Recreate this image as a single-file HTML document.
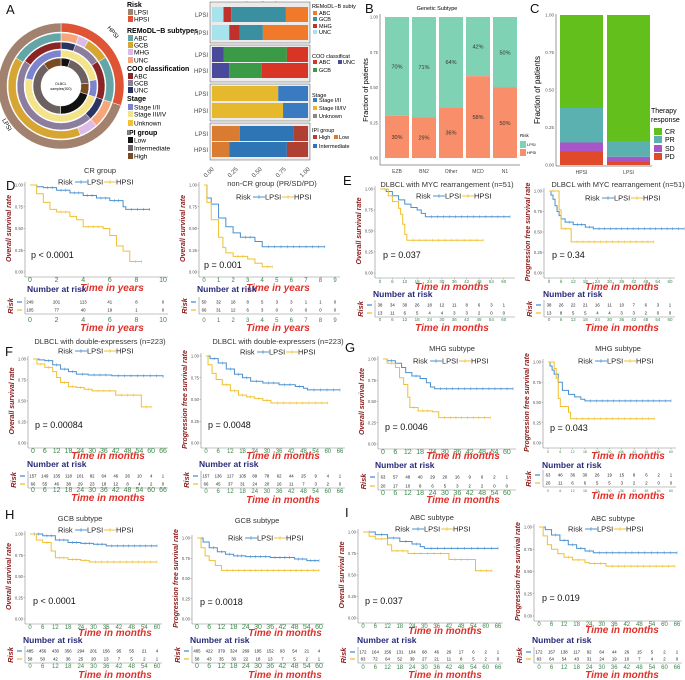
<!DOCTYPE html>
<html><head><meta charset="utf-8"><style>
html,body{margin:0;padding:0;background:#fff}
svg{display:block;font-family:"Liberation Sans",sans-serif}
</style></head><body>
<svg id="fig" width="685" height="680" viewBox="0 0 685 680" xmlns="http://www.w3.org/2000/svg">
<g font-size="13" fill="#111">
<text x="6" y="14">A</text><text x="365" y="13">B</text><text x="530" y="13">C</text>
<text x="6" y="190">D</text><text x="343" y="185">E</text><text x="5" y="356">F</text>
<text x="345" y="352">G</text><text x="5" y="519">H</text><text x="345" y="517">I</text>
</g>
<g id="pA"></g>
<g id="pB"></g>
<g id="pC"></g>
<g id="km"></g>
</svg>
<script>
const NS="http://www.w3.org/2000/svg";
function el(p,tag,at,txt){const e=document.createElementNS(NS,tag);for(const k in at)e.setAttribute(k,at[k]);if(txt!==undefined)e.textContent=txt;p.appendChild(e);return e;}

/* ---------- Panel A data ---------- */
const riskFrac=[0.70,0.30]; // LPSI, HPSI
const remodlCats=["UNC","MHG","GCB","ABC"];
const remodlL=[0.12,0.08,0.57,0.23];
const remodlH=[0.18,0.11,0.24,0.47];
const cooCats=["UNC","GCB","ABC"];
const cooL=[0.12,0.66,0.22];
const cooH=[0.18,0.34,0.48];
const stageCats=["III/IV","I/II"];
const stageL=[0.69,0.31];
const stageH=[0.74,0.26];
const ipiCats=["Low","Intermediate","High"];
const ipiL=[0.29,0.56,0.15];
const ipiH=[0.18,0.60,0.22];

/* ---------- Panel B data ---------- */
const genCats=["EZB","BN2","Other","MCD","N1"];
const genHPSI=[0.30,0.29,0.36,0.58,0.50];
const genLabelsH=["30%","29%","36%","58%","50%"];
const genLabelsL=["70%","71%","64%","42%","50%"];

/* ---------- Panel C data ---------- */
const respGroups=["HPSI","LPSI"];
const respPD=[0.09,0.02];
const respSD=[0.06,0.035];
const respPR=[0.23,0.105];

/* ---------- KM data ---------- */
const D1_L=[[0,1],[0.5,.98],[1,.97],[2,.94],[3,.91],[4,.88],[5,.85],[6,.82],[7,.75],[7.2,.72],[9,.72]];
const D1_H=[[0,1],[0.5,.9],[1,.8],[1.5,.72],[2,.69],[3,.64],[3.5,.6],[4,.52],[5.5,.5],[6,.42],[6.5,.3],[7,.24],[7.5,.12],[8.4,.12]];
const D1_rL=[249,201,113,41,8,0];
const D1_rH=[105,77,40,19,1,0];
const D1_ticks=[0,2,4,6,8,10];
const D2_L=[[0,1],[.2,.85],[.5,.78],[1,.62],[1.5,.52],[2,.45],[2.5,.40],[3.5,.35],[4,.29],[8.3,.29]];
const D2_H=[[0,1],[.2,.8],[.5,.6],[1,.4],[1.3,.28],[1.5,.22],[2,.18],[3,.15],[3.5,.1],[4,.06],[4.7,.06]];
const D2_rL=[50,32,18,8,5,3,3,1,1,0];
const D2_rH=[66,31,12,6,3,0,0,0,0,0];
const D2_ticks=[0,1,2,3,4,5,6,7,8,9];
const T60=[0,6,12,18,24,30,36,42,48,54,60];
const T66=[0,6,12,18,24,30,36,42,48,54,60,66];
const E1_L=[[0,1],[3,.97],[6,.92],[9,.87],[12,.82],[15,.78],[18,.75],[20,.71],[22,.67],[63,.67]];
const E1_H=[[0,1],[4,.92],[6,.85],[9,.77],[10,.7],[11,.58],[12,.46],[13,.39],[50,.39]];
const E1_rL=[38,34,30,26,18,12,11,8,6,3,1];
const E1_rH=[13,11,6,5,4,4,3,3,2,0,0];
const E2_L=[[0,1],[1,.95],[2,.9],[3,.82],[4,.75],[5,.7],[6,.66],[8,.62],[12,.59],[18,.56],[22,.54],[67,.54]];
const E2_H=[[0,1],[4,1],[5,.77],[6,.54],[10,.54],[11,.38],[52,.38]];
const E2_rL=[38,26,22,21,16,11,10,7,6,3,1];
const E2_rH=[13,8,5,5,4,4,3,3,2,0,0];
const F1_L=[[0,1],[3,.99],[6,.98],[10,.93],[14,.88],[18,.85],[22,.82],[28,.81],[40,.80],[66,.79]];
const F1_H=[[0,1],[2,.94],[6,.9],[10,.85],[12,.78],[14,.72],[18,.67],[22,.66],[26,.64],[30,.62],[42,.57],[54,.57],[55,.43],[60,.43]];
const F1_rL=[157,149,135,118,101,82,64,46,26,10,4,1];
const F1_rH=[66,55,46,38,29,23,18,12,8,4,2,0];
const F2_L=[[0,1],[2,.97],[6,.92],[10,.85],[14,.79],[18,.75],[22,.71],[28,.69],[36,.67],[44,.65],[48,.63],[50,.61],[66,.61]];
const F2_H=[[0,1],[1,.9],[3,.8],[5,.73],[8,.67],[12,.6],[16,.55],[20,.53],[24,.51],[28,.49],[32,.46],[60,.46]];
const F2_rL=[157,136,117,105,89,78,62,44,25,9,4,1];
const F2_rH=[66,45,37,31,24,20,16,11,7,3,2,0];
const G1_L=[[0,1],[2,.98],[6,.95],[9,.9],[11,.84],[14,.8],[18,.77],[21,.72],[23,.67],[25,.65],[63,.65]];
const G1_H=[[0,1],[2,.95],[6,.9],[8,.78],[10,.7],[12,.55],[13,.43],[17,.39],[24,.38],[27,.31],[52,.31]];
const G1_rL=[63,57,48,40,29,20,16,9,6,2,1];
const G1_rH=[20,17,10,8,6,5,3,2,2,0,0];
const G2_L=[[0,1],[1,.95],[2,.9],[3,.85],[5,.75],[7,.65],[10,.6],[13,.57],[16,.54],[18,.52],[60,.52]];
const G2_H=[[0,1],[3,.92],[4,.8],[5,.55],[6,.45],[8,.45],[10,.38],[11,.3],[52,.3]];
const G2_rL=[63,46,36,30,26,19,15,8,6,2,1];
const G2_rH=[20,11,6,6,5,5,3,2,2,0,0];
const H1_L=[[0,1],[6,.98],[12,.93],[18,.9],[24,.89],[30,.88],[36,.86],[60,.86]];
const H1_H=[[0,1],[3,.93],[6,.9],[10,.8],[12,.72],[18,.7],[24,.69],[28,.67],[60,.67]];
const H1_rL=[485,456,430,356,294,201,156,95,55,21,4];
const H1_rH=[58,50,42,36,25,20,13,7,5,2,1];
const H2_L=[[0,1],[3,.95],[6,.88],[10,.83],[14,.8],[18,.78],[24,.77],[36,.76],[48,.74],[54,.72],[60,.72]];
const H2_H=[[0,1],[2,.88],[4,.78],[6,.72],[9,.66],[12,.6],[60,.6]];
const H2_rL=[485,422,379,324,269,195,152,93,54,21,4];
const H2_rH=[58,43,35,30,22,18,13,7,5,2,1];
const I1_L=[[0,1],[6,.97],[12,.93],[18,.89],[24,.86],[28,.83],[30,.81],[66,.81]];
const I1_H=[[0,1],[3,.95],[6,.92],[12,.85],[14,.78],[22,.75],[41,.75],[42,.68],[54,.68],[55,.55],[63,.55]];
const I1_rL=[172,164,156,131,104,68,46,26,17,6,2,1];
const I1_rH=[83,72,64,52,39,27,21,11,8,5,2,0];
const I2_L=[[0,1],[3,.97],[6,.91],[10,.85],[14,.8],[18,.76],[22,.73],[26,.71],[66,.71]];
const I2_H=[[0,1],[2,.9],[4,.8],[6,.75],[9,.7],[12,.66],[16,.63],[22,.6],[24,.59],[32,.56],[65,.56]];
const I2_rL=[172,157,138,117,92,64,44,26,15,5,2,1];
const I2_rH=[83,64,54,43,31,24,19,10,7,4,2,0];
const yTickVals=[0,0.25,0.5,0.75,1];
const yTickLabels=["0.00","0.25","0.50","0.75","1.00"];

/* ---------- Panel A drawing ---------- */
(function(){
 const g=document.getElementById('pA');
 const cx=61,cy=86;
 function arc(r0,r1,a0,a1,fill,name){
  const p=(r,a)=>[cx+r*Math.sin(a),cy-r*Math.cos(a)];
  const large=(a1-a0)>Math.PI?1:0;
  const [x0,y0]=p(r1,a0),[x1,y1]=p(r1,a1),[x2,y2]=p(r0,a1),[x3,y3]=p(r0,a0);
  const e=el(g,'path',{d:`M${x0},${y0}A${r1},${r1} 0 ${large} 1 ${x1},${y1}L${x2},${y2}A${r0},${r0} 0 ${large} 0 ${x3},${y3}Z`,fill:fill,stroke:'#fff','stroke-width':0.5});
  
  
 }
 const TAU=Math.PI*2;
 const hEnd=riskFrac[1]*TAU;
 arc(54,63,0,hEnd,'#e05436','risk-ring-hpsi');
 arc(54,63,hEnd,TAU,'#a2826e','risk-ring-lpsi');
 function ring(r0,r1,fl,fh,cols,name){
  let a=0;fh.forEach((f,i)=>{const b=a+f*hEnd;arc(r0,r1,a,b,cols[i],name+'-hpsi');a=b;});
  a=hEnd;fl.forEach((f,i)=>{const b=a+f*(TAU-hEnd);arc(r0,r1,a,b,cols[i],name+'-lpsi');a=b;});
 }
 ring(45,53,remodlL,remodlH,['#f5a67a','#dcbbe6','#d6a532','#64a6a8'],'remodl-ring');
 ring(37,44,cooL,cooH,['#2b3562','#8c7d9c','#8b2525'],'coo-ring');
 ring(29,36,stageL,stageH,['#f3e48c','#7b84cc'],'stage-ring');
 ring(20,28,ipiL,ipiH,['#111','#6c6060','#7a4a25'],'ipi-ring');
 el(g,'circle',{cx:cx,cy:cy,r:19,fill:'#fff'});
 el(g,'text',{x:cx,y:cy-1,'font-size':3.5,'text-anchor':'middle'},'DLBCL');
 el(g,'text',{x:cx,y:cy+4,'font-size':3.5,'text-anchor':'middle'},'samples(920)');
 el(g,'text',{x:107,y:28,'font-size':6,transform:'rotate(50 107 28)'},'HPSI');
 el(g,'text',{x:2,y:120,'font-size':6,transform:'rotate(60 2 120)'},'LPSI');
 const L=[['b','Risk',5],['s','LPSI',12,'#a2826e'],['s','HPSI',19,'#e05436'],['b','REMoDL−B subtypes',31],['s','ABC',38,'#64a6a8'],['s','GCB',45,'#d6a532'],['s','MHG',52,'#dcbbe6'],['s','UNC',60,'#f5a67a'],['b','COO classification',69],['s','ABC',76,'#8b2525'],['s','GCB',83,'#8c7d9c'],['s','UNC',90,'#2b3562'],['b','Stage',99],['s','Stage I/II',107,'#7b84cc'],['s','Stage III/IV',114,'#f3e48c'],['s','Unknown',123,'#f2c230'],['b','IPI group',133],['s','Low',140,'#111'],['s','Intermediate',148,'#6c6060'],['s','High',156,'#7a4a25']];
 L.forEach(it=>{
  if(it[0]==='b'){const t=el(g,'text',{x:127,y:it[2]+2,'font-size':7,'font-weight':'bold'},it[1]);}
  else{el(g,'rect',{x:128,y:it[2]-3,width:5,height:6,fill:it[3]});const t=el(g,'text',{x:134,y:it[2]+2.5,'font-size':6.5},it[1]);}
 });
 const bx0=212,bx1=308;const sx=f=>bx0+f*(bx1-bx0);
 el(g,'text',{x:260,y:7,'font-size':7,'text-anchor':'middle'},'Fraction of patients');
 const groups=[
  {l:remodlL,h:remodlH,cols:['#a6e3ec','#c0312b','#3a8fa0','#f07a2a'],yl:7,yh:25,box:[2,43]},
  {l:cooL,h:cooH,cols:['#4a4a9a','#3a9a45','#d93527'],yl:47,yh:63,box:[45,82]},
  {l:stageL,h:stageH,cols:['#e6b82e','#3a7ac0'],yl:86,yh:103,box:[84,121]},
  {l:ipiL,h:ipiH,cols:['#d97b30','#2e75b6','#b04034'],yl:126,yh:142,box:[123,160]}];
 groups.forEach((G,gi)=>{
  el(g,'rect',{x:bx0-2,y:G.box[0],width:bx1-bx0+4,height:G.box[1]-G.box[0],fill:'#ebebeb',stroke:'#333','stroke-width':0.4});
  [[G.l,G.yl,'LPSI'],[G.h,G.yh,'HPSI']].forEach(([arr,y,lab])=>{
   let a=0;arr.forEach((f,i)=>{const r=el(g,'rect',{x:sx(a),y:y,width:sx(a+f)-sx(a),height:15,fill:G.cols[i]});a+=f;});
   el(g,'text',{x:bx0-4,y:y+10,'font-size':6,'text-anchor':'end',fill:'#444'},lab);
  });
 });
 ['0.00','0.25','0.50','0.75','1.00'].forEach((t,i)=>{const x=sx(i/4);el(g,'text',{x:x,y:168,'font-size':6,'text-anchor':'end',fill:'#444',transform:`rotate(-45 ${x+3} 166)`},t);});
 const sl=[['t','REMoDL−B subty',6],['s','ABC',13,'#f07a2a'],['s','GCB',19,'#3a8fa0'],['s','MHG',26,'#c0312b'],['s','UNC',32,'#a6e3ec'],['t','COO classificat',56],['s','ABC',62,'#d93527'],['s','GCB',70,'#3a9a45'],['t','Stage',95],['s','Stage I/II',100,'#3a7ac0'],['s','Stage III/IV',108,'#e6b82e'],['s','Unknown',116,'#888'],['t','IPI group',130],['s','High',137,'#b04034'],['s','Intermediate',146,'#2e75b6']];
 sl.forEach(it=>{
  if(it[0]==='t')el(g,'text',{x:312,y:it[2]+2,'font-size':5.5},it[1]);
  else{el(g,'rect',{x:313,y:it[2]-2,width:4,height:4,fill:it[3]});el(g,'text',{x:319,y:it[2]+2,'font-size':5.5},it[1]);}
 });
 el(g,'rect',{x:338,y:60,width:4,height:4,fill:'#4a4a9a'});el(g,'text',{x:343,y:64,'font-size':5.5},'UNC');
 el(g,'rect',{x:334,y:135,width:4,height:4,fill:'#d97b30'});el(g,'text',{x:339,y:139,'font-size':5.5},'Low');
})();

/* ---------- Panel B ---------- */
(function(){
 const g=document.getElementById('pB');
 const yt=17,yb=158,sy=f=>yb-f*(yb-yt);
 el(g,'text',{x:437,y:10,'font-size':5.5,'text-anchor':'middle'},'Genetic Subtype');
 el(g,'line',{x1:380,y1:14,x2:380,y2:165,stroke:'#333','stroke-width':0.5});
 el(g,'line',{x1:380,y1:165,x2:520,y2:165,stroke:'#333','stroke-width':0.5});
 yTickLabels.forEach((t,i)=>el(g,'text',{x:378,y:sy(yTickVals[i])+1.5,'font-size':4.2,'text-anchor':'end',fill:'#555'},t));
 el(g,'text',{x:368,y:90,'font-size':7.5,'text-anchor':'middle',transform:'rotate(-90 368 90)'},'Fraction of patients');
 genCats.forEach((c,i)=>{
  const x=385+i*27,w=24,h=genHPSI[i];
  const r1=el(g,'rect',{x:x,y:sy(1),width:w,height:sy(h)-sy(1),fill:'#7fd3b4'});
  const r2=el(g,'rect',{x:x,y:sy(h),width:w,height:yb-sy(h),fill:'#f88f6a'});
  el(g,'text',{x:x+w/2,y:(sy(h)+yb)/2+2,'font-size':5.5,'text-anchor':'middle',fill:'#333'},genLabelsH[i]);
  el(g,'text',{x:x+w/2,y:(sy(h)+sy(1))/2+2,'font-size':5.5,'text-anchor':'middle',fill:'#333'},genLabelsL[i]);
  el(g,'text',{x:x+w/2,y:173,'font-size':5,'text-anchor':'middle',fill:'#444'},c);
 });
 el(g,'text',{x:520,y:137,'font-size':4.5},'Risk');
 el(g,'rect',{x:520,y:141,width:6,height:7,fill:'#7fd3b4'});el(g,'text',{x:527,y:146,'font-size':4},'LPSI');
 el(g,'rect',{x:520,y:149,width:6,height:7,fill:'#f88f6a'});el(g,'text',{x:527,y:154,'font-size':4},'HPSI');
})();

/* ---------- Panel C ---------- */
(function(){
 const g=document.getElementById('pC');
 const yt=15,yb=165,sy=f=>yb-f*(yb-yt);
 el(g,'line',{x1:556,y1:14,x2:556,y2:166,stroke:'#333','stroke-width':0.5});
 el(g,'line',{x1:556,y1:166,x2:652,y2:166,stroke:'#333','stroke-width':0.5});
 yTickLabels.forEach((t,i)=>el(g,'text',{x:554,y:sy(yTickVals[i])+1.5,'font-size':4.5,'text-anchor':'end',fill:'#555'},t));
 el(g,'text',{x:540,y:90,'font-size':8,'text-anchor':'middle',transform:'rotate(-90 540 90)'},'Fraction of patients');
 respGroups.forEach((grp,i)=>{
  const x=560+i*47,w=43;
  const segs=[[respPD[i],'#e04a2a','pd'],[respSD[i],'#a855c8','sd'],[respPR[i],'#5bb0b0','pr']];
  let a=0;
  segs.forEach(s=>{const r=el(g,'rect',{x:x,y:sy(a+s[0]),width:w,height:sy(a)-sy(a+s[0]),fill:s[1]});a+=s[0];});
  const r=el(g,'rect',{x:x,y:sy(1),width:w,height:sy(a)-sy(1),fill:'#63c01c'});
  el(g,'text',{x:x+w/2,y:174,'font-size':5,'text-anchor':'middle',fill:'#444'},grp);
 });
 el(g,'text',{x:651,y:113,'font-size':7},'Therapy');
 el(g,'text',{x:651,y:122,'font-size':7},'response');
 [['CR','#63c01c',128],['PR','#5bb0b0',136],['SD','#a855c8',145],['PD','#e04a2a',153]].forEach(s=>{
  el(g,'rect',{x:654,y:s[2],width:8,height:7,fill:s[1]});
  const t=el(g,'text',{x:665,y:s[2]+6,'font-size':7},s[0]);
 });
})();

/* ---------- KM panels ---------- */
const KG=document.getElementById('km');
function km(c){
 const g=el(KG,'g',{});
 
 
 const sx=t=>c.x0+(t/c.tmax)*(c.x1-c.x0);
 const sy=s=>c.yb-s*(c.yb-c.yt);
 const ax=c.x0-5,ab=c.yb+5,ar=c.x1+5;
 el(g,'line',{x1:ax,y1:c.yt-3,x2:ax,y2:ab,stroke:'#888','stroke-width':0.6});
 el(g,'line',{x1:ax,y1:ab,x2:ar,y2:ab,stroke:'#888','stroke-width':0.6});
 yTickVals.forEach((v,i)=>{el(g,'text',{x:ax-2,y:sy(v)+1.5,'font-size':4.2,'text-anchor':'end',fill:'#555'},yTickLabels[i]);el(g,'line',{x1:ax-1.5,y1:sy(v),x2:ax,y2:sy(v),stroke:'#888','stroke-width':0.5});});
 const ttl=el(g,'text',{x:c.tx,y:c.ty,'font-size':7.5,'text-anchor':'middle',fill:'#333'},c.title);
 const yx=ax-14,ymid=(c.yt+c.yb)/2;
 el(g,'text',{x:yx,y:ymid,'font-size':7,'font-style':'italic','font-weight':'bold',fill:'#8b1a1a','text-anchor':'middle',transform:`rotate(-90 ${yx} ${ymid})`},c.ytitle);
 [[c.L,'#4a90d0','lpsi'],[c.H,'#f0c030','hpsi']].forEach(([pts,col,nm])=>{
  let d=`M${sx(pts[0][0])},${sy(pts[0][1])}`;
  for(let i=1;i<pts.length;i++){d+=`H${sx(pts[i][0])}V${sy(pts[i][1])}`;}
  const p=el(g,'path',{d:d,fill:'none',stroke:col,'stroke-width':1});
  
  
  for(let i=1;i<pts.length;i++){const a=pts[i-1][0],b=pts[i][0],s=pts[i-1][1];if(b-a>c.tmax*0.06){const n=Math.floor((b-a)/(c.tmax*0.05));for(let k=1;k<=n;k++){const x=sx(a+(b-a)*k/(n+1));el(g,'line',{x1:x,y1:sy(s)-1.5,x2:x,y2:sy(s)+1.5,stroke:col,'stroke-width':0.5});}}}
  const last=pts[pts.length-1];el(g,'line',{x1:sx(last[0]),y1:sy(last[1])-1.5,x2:sx(last[0]),y2:sy(last[1])+1.5,stroke:col,'stroke-width':0.5});
 });
 const lg=el(g,'g',{});
 el(lg,'text',{x:c.legX,y:c.legY+2.5,'font-size':7.5,fill:'#222'},'Risk');
 el(lg,'line',{x1:c.legX+17,y1:c.legY,x2:c.legX+29,y2:c.legY,stroke:'#4a90d0','stroke-width':1});
 el(lg,'line',{x1:c.legX+23,y1:c.legY-2,x2:c.legX+23,y2:c.legY+2,stroke:'#4a90d0','stroke-width':0.6});
 el(lg,'text',{x:c.legX+29,y:c.legY+2.5,'font-size':7.5,fill:'#222'},'LPSI');
 el(lg,'line',{x1:c.legX+46,y1:c.legY,x2:c.legX+58,y2:c.legY,stroke:'#f0c030','stroke-width':1});
 el(lg,'line',{x1:c.legX+52,y1:c.legY-2,x2:c.legX+52,y2:c.legY+2,stroke:'#f0c030','stroke-width':0.6});
 el(lg,'text',{x:c.legX+58,y:c.legY+2.5,'font-size':7.5,fill:'#222'},'HPSI');
 el(g,'text',{x:c.px,y:c.py,'font-size':9,fill:'#111'},c.p);
 c.ticks.forEach(t=>{el(g,'text',{x:sx(t),y:c.yb+10,'font-size':c.tfs,'text-anchor':'middle',fill:'#3a8a4a'},t);el(g,'line',{x1:sx(t),y1:ab,x2:sx(t),y2:ab+1.5,stroke:'#888','stroke-width':0.5});});
 const xt=el(g,'text',{x:c.ux,y:c.uy,'font-size':10,'font-style':'italic','font-weight':'bold','text-anchor':'middle',fill:'#e0302a'},c.unit);
 const nar=el(g,'text',{x:c.nx,y:c.ny,'font-size':8.5,'font-weight':'bold',fill:'#2a2a7a'},'Number at risk');
 el(g,'line',{x1:ax,y1:c.r1-5,x2:ax,y2:c.r2+4,stroke:'#888','stroke-width':0.6});
 el(g,'line',{x1:ax,y1:c.r2+4,x2:ar,y2:c.r2+4,stroke:'#888','stroke-width':0.6});
 el(g,'line',{x1:ax-8,y1:c.r1,x2:ax-3,y2:c.r1,stroke:'#4a90d0','stroke-width':1.3});
 el(g,'line',{x1:ax-8,y1:c.r2,x2:ax-3,y2:c.r2,stroke:'#f0c030','stroke-width':1.3});
 const rx=ax-12,rm=(c.r1+c.r2)/2;
 el(g,'text',{x:rx,y:rm,'font-size':7.5,'font-style':'italic','font-weight':'bold',fill:'#8b1a1a','text-anchor':'middle',transform:`rotate(-90 ${rx} ${rm})`},'Risk');
 c.ticks.forEach((t,i)=>{
  el(g,'text',{x:sx(t),y:c.r1+1.5,'font-size':4.3,'text-anchor':'middle',fill:'#222'},c.rL[i]);
  el(g,'text',{x:sx(t),y:c.r2+1.5,'font-size':4.3,'text-anchor':'middle',fill:'#222'},c.rH[i]);
  el(g,'text',{x:sx(t),y:c.rt,'font-size':c.tfs,'text-anchor':'middle',fill:'#3a8a4a'},t);
 });
 el(g,'text',{x:c.ux,y:c.rtt,'font-size':10,'font-style':'italic','font-weight':'bold','text-anchor':'middle',fill:'#e0302a'},c.unit);
}
const OS="Overall survival rate",PFS="Progression free survival rate";
km({name:'km-d-cr',x0:30,x1:163,tmax:10,ticks:D1_ticks,yt:185,yb:272,title:'CR group',tx:100,ty:173,legX:58,legY:182,p:'p < 0.0001',px:31,py:258,ytitle:OS,tfs:7,unit:'Time in years',ux:112,uy:291,nx:27,ny:292,r1:302,r2:310,rt:322,rtt:331,L:D1_L,H:D1_H,rL:D1_rL,rH:D1_rH});
km({name:'km-d-noncr',x0:204,x1:335,tmax:9,ticks:D2_ticks,yt:185,yb:272,title:'non-CR group (PR/SD/PD)',tx:272,ty:186,legX:236,legY:197,p:'p = 0.001',px:204,py:268,ytitle:OS,tfs:6,unit:'Time in years',ux:278,uy:291,nx:197,ny:292,r1:302,r2:310,rt:322,rtt:331,L:D2_L,H:D2_H,rL:D2_rL,rH:D2_rH});
km({name:'km-e-os',x0:380,x1:510,tmax:63,ticks:T60,yt:189,yb:273,title:'DLBCL with MYC rearrangement (n=51)',tx:447,ty:187,legX:416,legY:196,p:'p = 0.037',px:383,py:258,ytitle:OS,tfs:4.5,unit:'Time in months',ux:452,uy:290,nx:373,ny:297,r1:305,r2:313,rt:321,rtt:331,L:E1_L,H:E1_H,rL:E1_rL,rH:E1_rH});
km({name:'km-e-pfs',x0:549,x1:670,tmax:60,ticks:T60,yt:191,yb:273,title:'DLBCL with MYC rearrangement (n=51)',tx:618,ty:187,legX:585,legY:198,p:'p = 0.34',px:552,py:258,ytitle:PFS,tfs:4.5,unit:'Time in months',ux:622,uy:290,nx:543,ny:297,r1:305,r2:313,rt:321,rtt:331,L:E2_L,H:E2_H,rL:E2_rL,rH:E2_rH});
km({name:'km-f-os',x0:33,x1:163,tmax:66,ticks:T66,yt:359,yb:443,title:'DLBCL with double-expressers (n=223)',tx:100,ty:344,legX:58,legY:351,p:'p = 0.00084',px:35,py:428,ytitle:OS,tfs:7,unit:'Time in months',ux:108,uy:459,nx:27,ny:467,r1:476,r2:484,rt:492,rtt:501,L:F1_L,H:F1_H,rL:F1_rL,rH:F1_rH});
km({name:'km-f-pfs',x0:206,x1:340,tmax:66,ticks:T66,yt:356,yb:443,title:'DLBCL with double-expressers (n=223)',tx:278,ty:344,legX:240,legY:352,p:'p = 0.0048',px:208,py:428,ytitle:PFS,tfs:6,unit:'Time in months',ux:283,uy:459,nx:199,ny:467,r1:476,r2:484,rt:493,rtt:503,L:F2_L,H:F2_H,rL:F2_rL,rH:F2_rH});
km({name:'km-g-os',x0:383,x1:511,tmax:62,ticks:T60,yt:359,yb:444,title:'MHG subtype',tx:452,ty:351,legX:413,legY:361,p:'p = 0.0046',px:385,py:430,ytitle:OS,tfs:7,unit:'Time in months',ux:463,uy:459,nx:375,ny:468,r1:477,r2:486,rt:495,rtt:503,L:G1_L,H:G1_H,rL:G1_rL,rH:G1_rH});
km({name:'km-g-pfs',x0:548,x1:671,tmax:60,ticks:T60,yt:362,yb:443,title:'MHG subtype',tx:618,ty:351,legX:578,legY:361,p:'p = 0.043',px:550,py:431,ytitle:PFS,tfs:3.5,unit:'Time in months',ux:628,uy:459,nx:542,ny:468,r1:475,r2:483,rt:492,rtt:499,L:G2_L,H:G2_H,rL:G2_rL,rH:G2_rH});
km({name:'km-h-os',x0:30,x1:157,tmax:60,ticks:T60,yt:534,yb:619,title:'GCB subtype',tx:80,ty:521,legX:58,legY:530,p:'p < 0.0001',px:33,py:604,ytitle:OS,tfs:6,unit:'Time in months',ux:115,uy:636,nx:23,ny:643,r1:651,r2:659,rt:668,rtt:678,L:H1_L,H:H1_H,rL:H1_rL,rH:H1_rH});
km({name:'km-h-pfs',x0:197,x1:319,tmax:60,ticks:T60,yt:538,yb:619,title:'GCB subtype',tx:257,ty:523,legX:228,legY:538,p:'p = 0.0018',px:200,py:605,ytitle:PFS,tfs:7,unit:'Time in months',ux:285,uy:636,nx:190,ny:643,r1:651,r2:659,rt:668,rtt:678,L:H2_L,H:H2_H,rL:H2_rL,rH:H2_rH});
km({name:'km-i-os',x0:363,x1:498,tmax:66,ticks:T66,yt:532,yb:618,title:'ABC subtype',tx:432,ty:520,legX:395,legY:529,p:'p = 0.037',px:365,py:604,ytitle:OS,tfs:6,unit:'Time in months',ux:445,uy:634,nx:357,ny:643,r1:652,r2:659,rt:669,rtt:678,L:I1_L,H:I1_H,rL:I1_rL,rH:I1_rH});
km({name:'km-i-pfs',x0:539,x1:677,tmax:66,ticks:T66,yt:527,yb:616,title:'ABC subtype',tx:613,ty:521,legX:568,legY:529,p:'p = 0.019',px:542,py:601,ytitle:PFS,tfs:6,unit:'Time in months',ux:622,uy:633,nx:532,ny:643,r1:652,r2:659,rt:669,rtt:678,L:I2_L,H:I2_H,rL:I2_rL,rH:I2_rH});
</script>
</body></html>
